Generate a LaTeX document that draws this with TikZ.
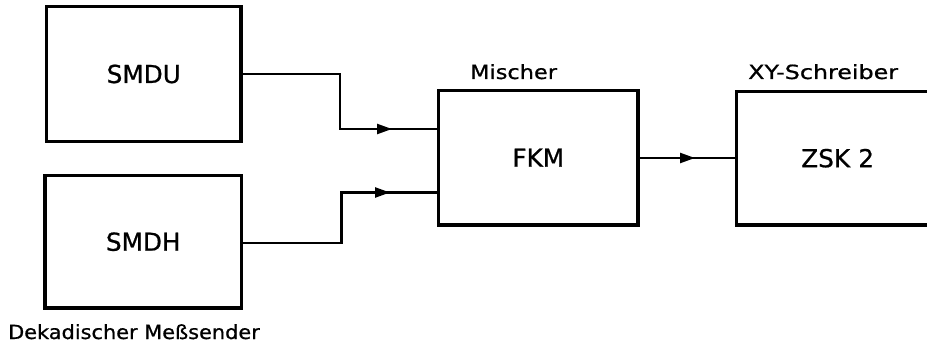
\documentclass[tikz,border=0pt]{standalone}
\usepackage{fontspec}
\setmainfont{DejaVu Sans}
\newfontfamily\boldish[FakeBold=0.8]{DejaVu Sans}
\usetikzlibrary{arrows.meta}
\tikzset{
  blockbox/.style={draw, line width=3.6pt, outer sep=0pt, inner sep=0pt, font=\boldish\fontsize{24.7}{30}\selectfont},
  conn/.style={line width=2.4pt, line join=miter},
  tipconn/.style={line width=2.4pt, -{Triangle[length=15pt,width=10pt]}},
  lbl/.style={inner sep=0pt, anchor=base west, font=\boldish\fontsize{19.5}{23}\selectfont}
}
\begin{document}
\begin{tikzpicture}[x=1pt,y=-1pt]
\clip (0,0) rectangle (927,345);
\fill[white] (0,0) rectangle (927,345);
\node[blockbox, minimum width=194.5pt, minimum height=135pt] (smdu) at (143.75,74) {SMDU};
\node[blockbox, minimum width=196.5pt, minimum height=132.5pt] (smdh) at (143.25,241.75) {SMDH};
\node[blockbox, minimum width=199.5pt, minimum height=134pt] (fkm) at (538.25,157.7) {FKM};
\node[blockbox, minimum width=205pt, minimum height=133pt, text width=205pt, align=left] (zsk) at (838.8,158.2) {\hspace*{65pt}ZSK 2};
\coordinate (t1) at (340,74);
\coordinate (t2) at (340,129);
\coordinate (ta) at (392,129);
\coordinate (b1) at (341.3,243);
\coordinate (b2) at (341.3,192.5);
\coordinate (ba) at (390,192.5);
\coordinate (ca) at (695,158);
\draw[conn] (smdu.east |- t1) -- (t1) -- (t2) -- (t2 -| fkm.west);
\draw[tipconn] (t2) -- (ta);
\draw[conn] (smdh.east |- b1) -- (b1) -- (b2) -- (b2 -| fkm.west);
\draw[tipconn] (b2) -- (ba);
\draw[conn] (fkm.east |- ca) -- (ca -| zsk.west);
\draw[tipconn] (fkm.east |- ca) -- (ca);
\node[lbl] (mischer) at (470,79) {\scalebox{1.15}[1]{Mischer}};
\node[lbl] (xy) at (748,79) {\scalebox{1.22}[1]{XY-Schreiber}};
\node[lbl] (dek) at (8,339) {\scalebox{1.07}[1]{Dekadischer Meßsender}};
\end{tikzpicture}
\end{document}
